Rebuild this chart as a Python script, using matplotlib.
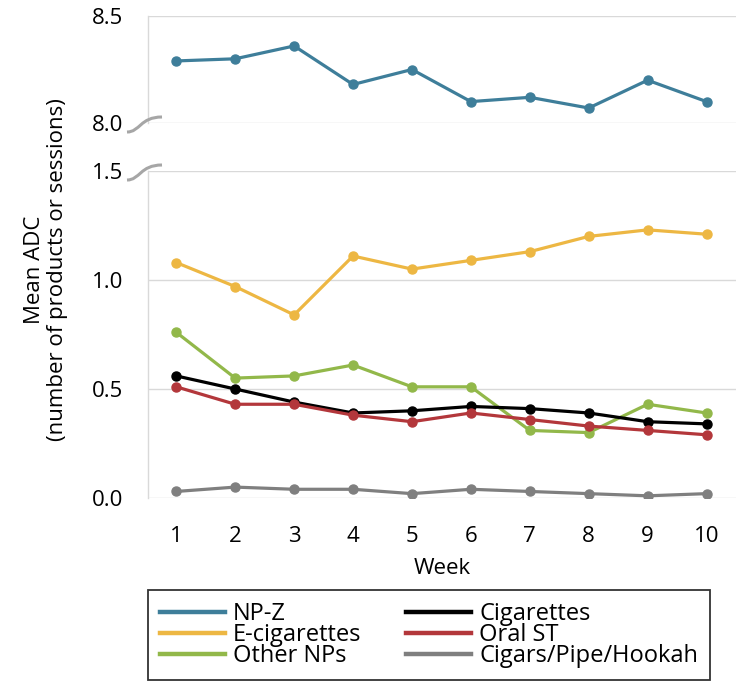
import numpy as np
import matplotlib
matplotlib.use("Agg")
import matplotlib.pyplot as plt
from matplotlib.path import Path
from matplotlib.patches import PathPatch

plt.rcParams['font.family'] = ['Open Sans', 'DejaVu Sans']

weeks = [1, 2, 3, 4, 5, 6, 7, 8, 9, 10]
np_z = [8.29, 8.30, 8.36, 8.18, 8.25, 8.10, 8.12, 8.07, 8.20, 8.10]
e_cigs = [1.08, 0.97, 0.84, 1.11, 1.05, 1.09, 1.13, 1.20, 1.23, 1.21]
other_nps = [0.76, 0.55, 0.56, 0.61, 0.51, 0.51, 0.31, 0.30, 0.43, 0.39]
cigarettes = [0.56, 0.50, 0.44, 0.39, 0.40, 0.42, 0.41, 0.39, 0.35, 0.34]
oral_st = [0.51, 0.43, 0.43, 0.38, 0.35, 0.39, 0.36, 0.33, 0.31, 0.29]
cigars = [0.03, 0.05, 0.04, 0.04, 0.02, 0.04, 0.03, 0.02, 0.01, 0.02]

colors = {
    'NP-Z': '#3E7E9A',
    'E-cigarettes': '#EDB743',
    'Other NPs': '#92B84A',
    'Cigarettes': '#000000',
    'Oral ST': '#B3373B',
    'Cigars/Pipe/Hookah': '#7F7F7F',
}

W, H = 750, 698
fig = plt.figure(figsize=(W / 100, H / 100), dpi=100)

def px_axes(left, top, right, bottom):
    return fig.add_axes([left / W, 1 - bottom / H, (right - left) / W, (bottom - top) / H])

ax_top = px_axes(148, 16, 736, 123)
ax_bot = px_axes(148, 171, 736, 498)

grid_c = '#D9D9D9'
lw = 2.3
ms = 6.5
fs = 16

def style(ax):
    for s in ['top', 'right', 'bottom']:
        ax.spines[s].set_visible(False)
    ax.spines['left'].set_color(grid_c)
    ax.spines['left'].set_linewidth(1.0)
    ax.yaxis.grid(True, color=grid_c, linewidth=1.0)
    ax.set_axisbelow(True)
    ax.tick_params(axis='y', length=0, labelsize=fs, pad=18)
    ax.tick_params(axis='x', length=0, labelsize=fs, pad=20)
    ax.set_xlim(0.52, 10.5)

style(ax_top)
style(ax_bot)

ax_top.plot(weeks, np_z, color=colors['NP-Z'], lw=lw, marker='o', ms=ms, label='NP-Z')
ax_top.set_ylim(8.0, 8.5)
ax_top.set_yticks([8.0, 8.5])
ax_top.set_yticklabels(['8.0', '8.5'])
ax_top.set_xticks([])

series = [
    ('E-cigarettes', e_cigs),
    ('Other NPs', other_nps),
    ('Cigarettes', cigarettes),
    ('Oral ST', oral_st),
    ('Cigars/Pipe/Hookah', cigars),
]
lines = {}
for name, vals in series:
    lines[name], = ax_bot.plot(weeks, vals, color=colors[name], lw=lw, marker='o', ms=ms,
                               label=name, zorder=3)
ax_bot.set_ylim(0, 1.5)
ax_bot.set_yticks([0.0, 0.5, 1.0, 1.5])
ax_bot.set_yticklabels(['0.0', '0.5', '1.0', '1.5'])
ax_bot.set_xticks(weeks)
ax_bot.set_xlabel('Week', fontsize=fs, labelpad=8)

# axis break squiggles
def squiggle(ax, yfrac):
    bb = ax.get_position()
    x0 = bb.x0 * W
    y0 = (1 - (bb.y0 + yfrac * bb.height)) * H
    pts = [(x0 - 21, y0 + 9), (x0 - 8, y0 + 9), (x0 - 8, y0 - 6), (x0 + 14, y0 - 6)]
    verts = [(x / W, 1 - y / H) for x, y in pts]
    p = Path(verts, [Path.MOVETO, Path.CURVE4, Path.CURVE4, Path.CURVE4])
    fig.patches.append(PathPatch(p, transform=fig.transFigure, fill=False,
                                 edgecolor='#A6A6A6', lw=2.2))

squiggle(ax_top, 0.0)
squiggle(ax_bot, 1.0)

fig.text(46 / W, 1 - 270 / H, 'Mean ADC\n(number of products or sessions)', rotation=90,
         ha='center', va='center', fontsize=fs, linespacing=1.1)

handles = [ax_top.get_lines()[0], lines['E-cigarettes'], lines['Other NPs'],
           lines['Cigarettes'], lines['Oral ST'], lines['Cigars/Pipe/Hookah']]
labels = [h.get_label() for h in handles]
leg_handles = [plt.Line2D([], [], color=h.get_color(), lw=3.2) for h in handles]
leg = fig.legend(leg_handles, labels, ncol=2, loc='upper left', mode='expand',
                 bbox_to_anchor=(148 / W, 1 - 683 / H, 562 / W, 93 / H), fontsize=17,
                 frameon=True, fancybox=False, edgecolor='black', handlelength=2.75,
                 handletextpad=0.35, labelspacing=-0.12, columnspacing=1.0,
                 borderpad=0.5, borderaxespad=0)
leg.get_frame().set_linewidth(1.3)

fig.savefig('out.png', dpi=100)
